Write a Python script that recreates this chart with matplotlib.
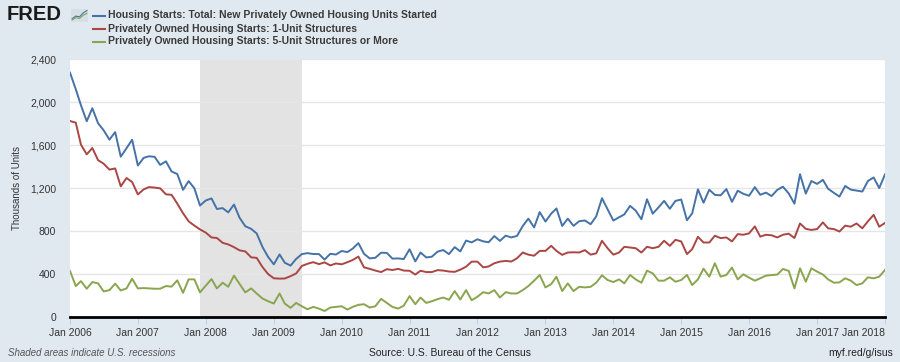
import matplotlib
matplotlib.use("Agg")
import matplotlib.pyplot as plt
import matplotlib.dates as mdates
import pandas as pd
import numpy as np

plt.rcParams['font.family'] = ['Liberation Sans', 'DejaVu Sans']

start_month = "2006-01-01"
total = [2273, 2119, 1969, 1821, 1942, 1802, 1737, 1650, 1720, 1491, 1570, 1649,
         1409, 1480, 1495, 1490, 1415, 1448, 1354, 1330, 1183, 1264, 1197, 1037,
         1084, 1103, 1005, 1013, 973, 1046, 923, 844, 820, 777, 652, 560,
         490, 582, 505, 478, 540, 585, 594, 586, 585, 534, 588, 581,
         614, 604, 636, 687, 588, 545, 551, 598, 596, 543, 545, 539,
         630, 517, 600, 554, 561, 608, 623, 585, 650, 610, 711, 694,
         723, 704, 695, 753, 708, 757, 740, 754, 847, 915, 833, 976,
         888, 962, 1010, 847, 915, 848, 891, 898, 863, 936, 1105, 1003,
         897, 928, 954, 1034, 990, 909, 1095, 961, 1020, 1080, 1007, 1080,
         1093, 900, 964, 1188, 1063, 1184, 1136, 1132, 1190, 1071, 1175, 1146,
         1128, 1208, 1137, 1157, 1125, 1183, 1212, 1150, 1054, 1328, 1148, 1265,
         1238, 1276, 1193, 1155, 1120, 1219, 1185, 1176, 1167, 1265, 1298, 1199,
         1327]
one_unit = [1823, 1808, 1603, 1513, 1572, 1459, 1426, 1371, 1382, 1215, 1293, 1256,
            1140, 1187, 1208, 1204, 1197, 1141, 1137, 1055, 965, 890, 850, 815,
            785, 740, 735, 690, 675, 650, 620, 610, 555, 550, 465, 400,
            360, 357, 358, 380, 405, 475, 495, 510, 492, 508, 480, 498,
            490, 510, 530, 562, 462, 448, 432, 418, 445, 437, 448, 432,
            430, 395, 430, 418, 418, 436, 432, 423, 420, 440, 468, 515,
            515, 462, 470, 500, 515, 522, 516, 546, 600, 580, 570, 615,
            615, 662, 615, 578, 600, 602, 600, 622, 580, 592, 709, 640,
            580, 600, 653, 646, 640, 600, 653, 640, 653, 709, 662, 718,
            703, 585, 631, 746, 693, 693, 756, 734, 740, 703, 771, 765,
            778, 843, 748, 765, 760, 740, 765, 775, 735, 870, 820, 810,
            818, 880, 825, 818, 795, 850, 840, 870, 825, 890, 950, 840,
            875]
five_plus = [428, 288, 334, 263, 325, 313, 238, 250, 310, 247, 266, 356,
             266, 269, 266, 263, 263, 288, 282, 341, 225, 350, 350, 229,
             291, 353, 266, 319, 281, 385, 307, 229, 266, 219, 172, 147,
             125, 219, 125, 85, 131, 100, 72, 94, 78, 56, 88, 94,
             100, 69, 94, 113, 119, 88, 100, 169, 131, 94, 78, 106,
             194, 119, 181, 131, 147, 166, 181, 160, 241, 163, 250, 156,
             188, 231, 219, 250, 181, 231, 219, 219, 250, 288, 338, 391,
             275, 306, 375, 241, 313, 241, 281, 275, 281, 319, 388, 344,
             325, 350, 313, 391, 350, 319, 431, 406, 338, 338, 369, 328,
             344, 391, 297, 350, 450, 375, 500, 375, 391, 460, 350, 397,
             366, 338, 360, 385, 390, 395, 447, 429, 266, 453, 328, 453,
             422, 395, 350, 319, 322, 360, 338, 297, 313, 369, 360, 375,
             438]
series_names = ["Housing Starts: Total: New Privately Owned Housing Units Started",
                "Privately Owned Housing Starts: 1-Unit Structures",
                "Privately Owned Housing Starts: 5-Unit Structures or More"]
series_colors = ["#4572A7", "#AA4643", "#89A54E"]
recession_start = "2007-12-01"
recession_end = "2009-06-01"
y_ticks = [0, 400, 800, 1200, 1600, 2000, 2400]
x_tick_years = list(range(2006, 2019))

dates = pd.date_range(start_month, periods=len(total), freq="MS")

bg = "#E1E9F0"
fig = plt.figure(figsize=(9, 3.62), dpi=100, facecolor=bg)
ax = fig.add_axes([70/900, 1-317/362, 815/900, 258/362])
ax.set_facecolor("white")

ax.axvspan(pd.Timestamp(recession_start), pd.Timestamp(recession_end),
           color="#E3E3E3", zorder=0, lw=0)

for vals, c in zip([total, one_unit, five_plus], series_colors):
    ax.plot(dates, vals, color=c, lw=1.4, zorder=3, solid_joinstyle='round')

ax.set_ylim(0, 2400)
ax.set_xlim(dates[0], dates[-1])
ax.set_yticks(y_ticks)
ax.set_yticklabels([f"{v:,}" for v in y_ticks])
ax.yaxis.grid(True, color="#E6E6E6", lw=1)
ax.set_axisbelow(True)
ax.tick_params(axis='y', length=0, labelsize=7.5, labelcolor="#333333", pad=10)

xt = [pd.Timestamp(f"{y}-01-01") for y in x_tick_years]
ax.set_xticks(xt)
labels = [f"Jan {y}" for y in x_tick_years]
ax.set_xticklabels(labels)
ax.tick_params(axis='x', length=5, color="#C0D0E0", labelsize=7.5,
               labelcolor="#333333", pad=3, direction='out')
tl = ax.get_xticklabels()
tl[-1].set_horizontalalignment('right')

for s in ["top", "right", "left"]:
    ax.spines[s].set_visible(False)
ax.spines["bottom"].set_color("black")
ax.spines["bottom"].set_linewidth(2)
ax.spines["bottom"].set_zorder(5)

fig.text(17/900, 1-188/362, "Thousands of Units", rotation=90, ha='center',
         va='center', fontsize=7, color="#333333")

# FRED logo
fig.text(7/900, 1-15/362, "FRED", fontsize=14.5, fontweight='bold', color="#1a1a1a",
         ha='left', va='center')
icon = fig.add_axes([71/900, 1-22/362, 17/900, 13/362])
icon.set_facecolor("#D6DEE6")
icon.plot([0, 1, 2, 3, 4], [0.5, 1.2, 1.0, 2.0, 2.6], color="#4572A7", lw=0.8)
icon.plot([0, 1, 2, 3, 4], [0.2, 0.8, 0.6, 1.4, 1.9], color="#89A54E", lw=0.8)
icon.set_xlim(-0.3, 4.3); icon.set_ylim(-0.3, 3)
icon.set_xticks([]); icon.set_yticks([])
for s in icon.spines.values():
    s.set_visible(False)

for i, (name, c) in enumerate(zip(series_names, series_colors)):
    yy = 1 - (15.5 + 13 * i) / 362
    fig.add_artist(plt.Line2D([93/900, 105/900], [yy, yy], color=c, lw=1.5,
                              transform=fig.transFigure))
    fig.text(108/900, yy, name, fontsize=7.5, fontweight='bold', color="#3a3a3a",
             ha='left', va='center')

fig.text(8/900, 1-353/362, "Shaded areas indicate U.S. recessions", fontsize=7,
         style='italic', color="#555555", ha='left', va='center')
fig.text(450/900, 1-353/362, "Source: U.S. Bureau of the Census", fontsize=7.5,
         color="#222222", ha='center', va='center')
fig.text(893/900, 1-353/362, "myf.red/g/isus", fontsize=7.5, color="#222222",
         ha='right', va='center')

fig.savefig("out.png", dpi=100, facecolor=bg)
